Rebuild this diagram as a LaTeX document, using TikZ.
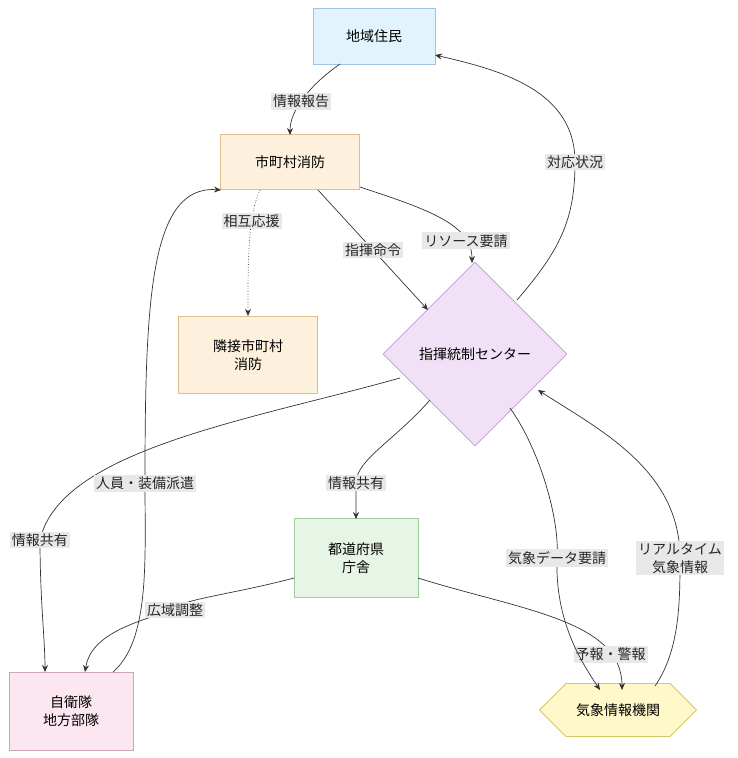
\documentclass[tikz,border=0pt]{standalone}
\usepackage{fontspec}
\setmainfont{Noto Sans CJK JP}
\usetikzlibrary{shapes.geometric,shapes.misc,arrows.meta}
\definecolor{ln}{HTML}{333333}
\begin{document}
\begin{tikzpicture}[x=1pt,y=-1pt,font=\fontsize{14}{18}\selectfont,
 box/.style={draw,minimum width=#1,align=center,line width=0.8pt},
 e/.style={draw=ln,line width=0.7pt,-{Stealth[length=7pt,width=6pt]}},
 lb/.style={fill=black!9,inner sep=2pt,text=black!85,align=center}]
\useasboundingbox (0,0) rectangle (737,758);
\node[box=122pt,minimum height=56pt,fill={rgb,255:red,225;green,243;blue,253},draw={rgb,255:red,160;green,195;blue,225}] (a) at (374,36) {地域住民};
\node[box=139pt,minimum height=55pt,fill={rgb,255:red,253;green,240;blue,220},draw={rgb,255:red,225;green,190;blue,140}] (b) at (290,162) {市町村消防};
\node[box=139pt,minimum height=77pt,fill={rgb,255:red,253;green,240;blue,220},draw={rgb,255:red,225;green,190;blue,140}] (c) at (248,355) {隣接市町村\\消防};
\node[diamond,draw={rgb,255:red,190;green,155;blue,215},fill={rgb,255:red,240;green,225;blue,246},line width=0.8pt,minimum width=184pt,minimum height=184pt,inner sep=0pt] (d) at (475,354) {指揮統制センター};
\node[box=124pt,minimum height=79pt,fill={rgb,255:red,230;green,245;blue,230},draw={rgb,255:red,160;green,205;blue,160}] (f) at (356,558) {都道府県\\庁舎};
\node[box=124pt,minimum height=78pt,fill={rgb,255:red,252;green,230;blue,240},draw={rgb,255:red,215;green,160;blue,190}] (s) at (71,711) {自衛隊\\地方部隊};
\node[chamfered rectangle,chamfered rectangle xsep=8pt,chamfered rectangle ysep=20pt,draw={rgb,255:red,215;green,200;blue,100},fill={rgb,255:red,255;green,248;blue,200},line width=0.8pt,minimum width=157pt,minimum height=34pt,inner sep=0pt] (w) at (618,710) {気象情報機関};
% edges
\draw[e] (340,64) .. controls (310,85) and (290,110) .. node[lb,pos=0.55]{情報報告} (290,135);
\draw[e,dotted] (260,190) .. controls (248,215) and (248,260) .. node[lb,pos=0.33]{相互応援} (248,316);
\draw[e] (318,190) -- node[lb,pos=0.5]{指揮命令} (428,310);
\draw[e] (360,187) .. controls (430,210) and (472,225) .. node[lb,pos=0.78]{リソース要請} (472,263);
\draw[e] (517,300) .. controls (560,250) and (575,220) .. (575,162) node[lb,pos=1]{対応状況} .. controls (575,90) and (500,70) .. (435,55);
\draw[e] (400,378) .. controls (250,420) and (60,450) .. (40,540) node[lb]{情報共有} .. controls (40,600) and (45,640) .. (45,672);
\draw[e] (113,672) .. controls (150,640) and (145,560) .. (145,483) node[lb]{人員・装備派遣} .. controls (145,300) and (150,185) .. (221,190);
\draw[e] (430,400) .. controls (395,440) and (356,460) .. (356,483) node[lb]{情報共有} -- (356,519);
\draw[e] (294,578) .. controls (230,595) and (175,600) .. (175,610) node[lb]{広域調整} .. controls (120,625) and (90,640) .. (85,672);
\draw[e] (418,578) .. controls (520,610) and (622,620) .. node[lb,pos=0.8]{予報・警報} (622,690);
\draw[e] (510,408) .. controls (540,450) and (560,520) .. (557,558) node[lb]{気象データ要請} .. controls (555,620) and (580,660) .. (600,690);
\draw[e] (655,686) .. controls (680,650) and (680,600) .. (680,558) node[lb]{リアルタイム\\気象情報} .. controls (680,470) and (600,430) .. (538,390);
\end{tikzpicture}
\end{document}
